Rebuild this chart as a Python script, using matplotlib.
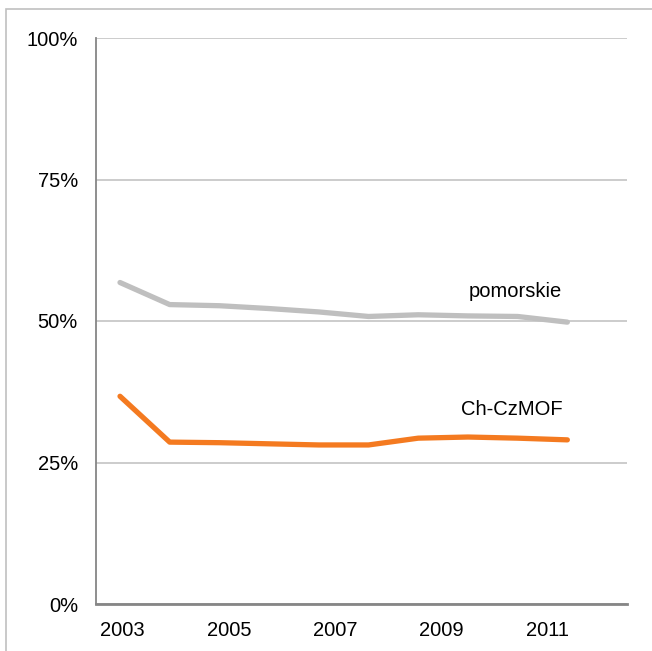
import matplotlib.pyplot as plt
from matplotlib.patches import Rectangle

plt.rcParams['font.family'] = ['Liberation Sans', 'DejaVu Sans']

years = [2003, 2004, 2005, 2006, 2007, 2008, 2009, 2010, 2011, 2012]
pomorskie = [56.8, 52.9, 52.7, 52.2, 51.6, 50.8, 51.1, 50.9, 50.8, 49.8]
chczmof = [36.7, 28.6, 28.5, 28.3, 28.1, 28.1, 29.3, 29.5, 29.3, 29.0]
tick_years = ["2003", "2005", "2007", "2009", "2011"]
y_ticks = [0, 25, 50, 75, 100]

fig = plt.figure(figsize=(6.52, 6.51), dpi=100)
# outer frame (right and bottom edges cut off in the original)
fig.patches.append(Rectangle((6 / 652, -0.1), 1.2, 1.1 - 9 / 651,
                             transform=fig.transFigure, fill=False,
                             edgecolor='#c0c0c0', linewidth=1.2))

ax = fig.add_axes([96 / 652, 47 / 651, 531 / 652, 566 / 651])

ax.plot(years, pomorskie, color='#bfbfbf', linewidth=3.8, solid_capstyle='round', zorder=3)
ax.plot(years, chczmof, color='#f47a20', linewidth=3.8, solid_capstyle='round', zorder=3)

x0, x1 = 2002.517, 2013.2
ax.set_xlim(x0, x1)
ax.set_ylim(0, 100)

band = (x1 - x0) / 10
ax.set_xticks([x0 + (2 * i + 0.5) * band for i in range(len(tick_years))])
ax.set_xticklabels(tick_years)
ax.set_yticks(y_ticks)
ax.set_yticklabels([f"{v}%" for v in y_ticks])
ax.tick_params(length=0, labelsize=14.5, pad=12)
ax.tick_params(axis='y', pad=13)

ax.grid(axis='y', color='#bfbfbf', linewidth=1.1)
ax.set_axisbelow(True)
for s in ['top', 'right']:
    ax.spines[s].set_visible(False)
ax.spines['left'].set_color('#868686')
ax.spines['left'].set_linewidth(1.3)
ax.spines['bottom'].set_color('#868686')
ax.spines['bottom'].set_linewidth(2)

ax.text(2011.9, 55.2, "pomorskie", ha='right', va='center', fontsize=14.5)
ax.text(2011.9, 34.3, "Ch-CzMOF", ha='right', va='center', fontsize=14.5)

plt.savefig("out.png", dpi=100)
